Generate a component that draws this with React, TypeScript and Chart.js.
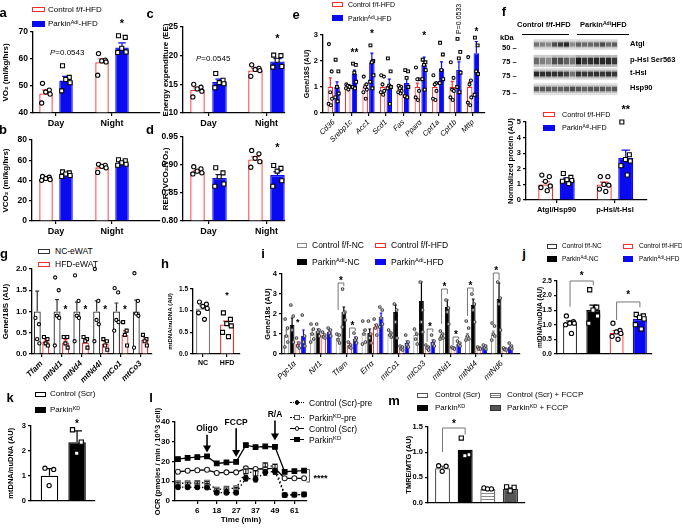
import React, { useEffect, useRef } from "react";
import { Chart, registerables } from "chart.js";

Chart.register(...registerables);

const FONT = "'Liberation Sans', Arial, Helvetica, sans-serif";
Chart.defaults.font.family = FONT;
Chart.defaults.color = "#000";

const RED = "#ff2a2a";
const BLUE = "#0a0af0";

// ---------------- data ----------------
const dayNight = ["Day", "Night"];
// a  VO2
const aCtrl = [47.2, 58.8];
const aCtrlErr = [1.3, 1.3];
const aCtrlPts = [[51, 48.5, 47.8, 47, 43.7], [62, 59.6, 59.3, 58.9, 54]];
const aPk = [52.0, 64.3];
const aPkErr = [1.6, 1.7];
const aPkPts = [[57.5, 53.2, 52.4, 51.2, 48.2], [68.6, 68, 64, 62.6, 62.4]];
// b  VCO2
const bCtrl = [41.6, 53.0];
const bCtrlErr = [1.0, 1.4];
const bCtrlPts = [[44, 43.2, 42, 41, 40.2], [56, 55, 54, 52.5, 48]];
const bPk = [45.6, 56.6];
const bPkErr = [1.0, 1.1];
const bPkPts = [[48.5, 47.5, 46.4, 45, 44], [60.5, 59.5, 57.5, 56, 55]];
// c  EE
const cCtrl = [14.0, 17.4];
const cCtrlErr = [0.4, 0.4];
const cCtrlPts = [[15.0, 14.5, 14.2, 13.8, 12.8], [18.4, 17.8, 17.6, 17.4, 16.4]];
const cPk = [15.4, 19.0];
const cPkErr = [0.5, 0.5];
const cPkPts = [[16.9, 15.7, 15.3, 15.1, 14.4], [20.1, 20.0, 19.2, 18.1, 18.0]];
// d  RER
const dCtrl = [0.888, 0.91];
const dCtrlErr = [0.002, 0.005];
const dCtrlPts = [[0.897, 0.893, 0.889, 0.886, 0.884], [0.926, 0.92, 0.912, 0.906, 0.896]];
const dPk = [0.877, 0.882];
const dPkErr = [0.006, 0.006];
const dPkPts = [[0.895, 0.886, 0.879, 0.866, 0.862], [0.899, 0.894, 0.889, 0.872, 0.862]];
// e  genes
const eCats = ["Cd36", "Srebp1c", "Acc1", "Scd1", "Fas", "Pparα", "Cpt1a", "Cpt1b", "Mttp"];
const eCtrl = [1, 1, 1, 1, 1, 1, 1, 1, 1];
const eCtrlErr = [0.35, 0.08, 0.1, 0.1, 0.07, 0.15, 0.1, 0.22, 0.18];
const eCtrlPts = [[2.65, 1.6, 0.8, 0.55, 0.35, 0.3], [1.1, 1.05, 1.05, 1.0, 0.95, 0.9], [1.4, 1.1, 1.0, 0.9, 0.8, 0.55], [1.45, 1.4, 1.1, 0.85, 0.8, 0.7], [1.05, 1.0, 0.95, 0.85, 0.8, 0.75], [1.75, 1.3, 1.3, 0.85, 0.6, 0.5], [1.45, 1.15, 1.1, 0.85, 0.55, 0.5], [1.95, 1.35, 0.9, 0.85, 0.6, 0.5], [2.15, 1.25, 1.1, 0.6, 0.4, 0.3]];
const ePk = [1.0, 1.5, 1.95, 1.05, 1.15, 1.85, 1.7, 1.65, 2.3];
const ePkErr = [0.2, 0.15, 0.35, 0.25, 0.2, 0.3, 0.27, 0.32, 0.45];
const ePkPts = [[2.05, 1.6, 1.0, 0.75, 0.6, 0.45], [1.9, 1.85, 1.55, 1.2, 1.0, 0.95], [2.6, 2.0, 1.95, 1.45, 1.2, 0.95], [2.1, 1.6, 1.05, 1.0, 0.95, 0.35], [1.65, 1.6, 1.35, 1.0, 0.65, 0.6], [2.05, 1.95, 1.85, 1.65, 1.3, 0.9], [2.7, 2.25, 1.65, 1.3, 1.15], [2.85, 2.35, 2.1, 1.55, 1.0, 0.8], [2.9, 2.6, 1.6, 1.5, 0.7]];
// f  western quantification
const fCats = ["Atgl/Hsp90", "p-Hsl/t-Hsl"];
const fCtrl = [1.0, 1.0];
const fCtrlErr = [0.17, 0.15];
const fCtrlPts = [[1.6, 1.5, 1.2, 0.9, 0.8, 0.6], [1.5, 1.5, 1.0, 0.95, 0.7, 0.55]];
const fPk = [1.3, 2.7];
const fPkErr = [0.1, 0.5];
const fPkPts = [[1.7, 1.45, 1.3, 1.25, 1.2, 1.05], [5.0, 2.9, 2.6, 2.5, 2.2, 1.6]];
// f  blot band intensities (lanes 1-7 control, 8-14 Parkin)
const blotRowNames = ["Atgl", "p-Hsl Ser563", "t-Hsl", "Hsp90"];
const blotMarkers = ["50", "75", "75", "75"];
const blotAtgl = [0.45, 0.4, 0.35, 0.65, 0.75, 0.85, 0.35, 0.55, 0.5, 0.5, 0.55, 0.65, 0.5, 0.55];
const blotPHsl = [0.5, 0.4, 0.35, 0.65, 0.65, 0.55, 0.45, 0.95, 0.75, 0.8, 0.85, 0.85, 0.85, 0.75];
const blotTHsl = [0.85, 0.8, 0.8, 0.8, 0.8, 0.7, 0.45, 0.8, 0.75, 0.75, 0.8, 0.75, 0.8, 0.75];
const blotHsp90 = [0.6, 0.6, 0.6, 0.55, 0.55, 0.6, 0.65, 0.6, 0.55, 0.6, 0.6, 0.6, 0.55, 0.6];
// g  eWAT mito genes
const gCats = ["Tfam", "mtNd1", "mtNd4", "mtNd4l", "mtCo1", "mtCo3"];
const gNC = [1, 1, 1, 1, 1, 1];
const gNCErr = [0.48, 0.28, 0.22, 0.25, 0.2, 0.27];
const gNCPts = [[0.85, 0.7, 0.35, 0.25], [1.8, 1.5, 0.9, 0.85, 0.2], [1.85, 1.25, 0.9, 0.85, 0.3], [2.0, 1.25, 0.8, 0.7, 0.3], [1.55, 1.45, 0.8, 0.75, 0.55], [1.9, 1.25, 0.95, 0.9, 0.15]];
const gHFD = [0.28, 0.27, 0.27, 0.24, 0.45, 0.33];
const gHFDErr = [0.06, 0.07, 0.05, 0.06, 0.1, 0.05];
const gHFDPts = [[0.4, 0.35, 0.25, 0.2], [0.4, 0.4, 0.25, 0.15], [0.4, 0.35, 0.3, 0.15], [0.35, 0.3, 0.2, 0.1], [0.75, 0.55, 0.45, 0.2], [0.45, 0.35, 0.3, 0.2]];
// h
const hCats = ["NC", "HFD"];
const hVals = [1.05, 0.68];
const hErr = [0.06, 0.08];
const hPts = [[1.2, 1.15, 1.1, 1.05, 0.95, 0.8], [0.95, 0.8, 0.7, 0.65, 0.5, 0.4]];
// i
const iCats = ["Pgc1α", "Nrf1", "Tfam", "Errα", "mtCo1", "mtCo3", "mtNd1", "mtNd4", "mtNd6"];
const iCtrlNC = [0.95, 1.05, 0.8, 1.05, 1.0, 0.95, 0.9, 0.9, 0.95];
const iCtrlNCErr = [0.25, 0.15, 0.15, 0.15, 0.1, 0.15, 0.1, 0.12, 0.2];
const iCtrlNCPts = [[1.75, 1.3, 0.9, 0.6, 0.35], [1.5, 1.25, 1.0, 0.75, 0.6], [1.0, 0.95, 0.7, 0.55], [1.65, 1.2, 1.0, 0.6, 0.5], [1.2, 1.05, 0.95, 0.85], [1.25, 1.0, 0.75, 0.5], [1.15, 1.0, 0.9, 0.8, 0.75], [1.65, 1.3, 0.9, 0.75, 0.7], [1.55, 1.4, 1.0, 0.9, 0.7]];
const iPkNC = [1.45, 1.15, 2.1, 1.05, 2.1, 2.65, 2.35, 2.45, 2.75];
const iPkNCErr = [0.35, 0.1, 0.25, 0.2, 0.35, 0.95, 0.35, 0.3, 0.8];
const iPkNCPts = [[2.45, 1.9, 1.2, 0.6], [1.5, 1.2, 1.1, 0.9], [3.25, 2.1, 2.05, 1.7, 1.35], [1.65, 1.0, 0.8, 0.55], [2.5, 2.2, 1.6, 0.8], [3.6, 2.2, 1.6, 1.1], [2.7, 2.3, 2.1, 1.5], [3.0, 2.5, 2.2, 1.6], [3.6, 2.8, 2.5, 1.2]];
const iCtrlHFD = [0.5, 0.95, 0.45, 1.35, 0.3, 0.3, 0.3, 0.3, 0.25];
const iCtrlHFDErr = [0.1, 0.1, 0.08, 0.12, 0.05, 0.06, 0.04, 0.04, 0.04];
const iCtrlHFDPts = [[0.8, 0.55, 0.4, 0.3], [1.1, 0.95, 0.85, 0.8], [0.6, 0.45, 0.35, 0.3], [1.75, 1.45, 1.3, 0.95], [0.4, 0.35, 0.25, 0.2], [0.45, 0.35, 0.3, 0.2], [0.35, 0.3, 0.3, 0.25], [0.35, 0.3, 0.25, 0.25], [0.3, 0.25, 0.22, 0.2]];
const iPkHFD = [0.9, 1.1, 0.75, 1.85, 0.55, 0.6, 0.5, 0.35, 0.35];
const iPkHFDErr = [0.3, 0.1, 0.1, 0.2, 0.1, 0.1, 0.06, 0.05, 0.05];
const iPkHFDPts = [[1.95, 0.9, 0.6, 0.4], [1.3, 1.2, 1.05, 0.9], [1.05, 0.8, 0.7, 0.55], [2.35, 2.2, 1.8, 1.5, 1.35], [0.95, 0.6, 0.45, 0.35], [0.95, 0.65, 0.5, 0.4], [0.65, 0.55, 0.45, 0.4], [0.45, 0.4, 0.3, 0.25], [0.55, 0.4, 0.3, 0.25]];
// j
const jGroups = ["Control f/f-NC", "Parkin Adi-NC", "Control f/f-HFD", "Parkin Adi-HFD"];
const jVals = [1.05, 1.5, 0.72, 1.2];
const jErr = [0.08, 0.17, 0.08, 0.07];
const jPts = [[1.3, 1.1, 1.05, 1.05, 1.0, 0.7], [2.2, 1.6, 1.5, 1.3, 1.05], [1.05, 0.8, 0.75, 0.7, 0.6, 0.5], [1.35, 1.3, 1.25, 1.2, 1.0, 0.85]];
// k
const kGroups = ["Control (Scr)", "Parkin KD"];
const kVals = [1.0, 2.35];
const kErr = [0.28, 0.45];
const kPts = [[1.3, 1.25, 0.6], [2.85, 2.35, 1.9]];
// l  OCR
const lTimes = [0, 3, 6, 12, 18, 22, 27, 31, 37, 43, 49, 55, 61, 67];
const lTickIdx = [2, 4, 6, 8, 10, 12];
const lLabels = ["Control (Scr)-pre", "Parkin KD-pre", "Control (Scr)", "Parkin KD"];
const lCtrlPre = [7.0, 7.0, 6.9, 6.8, 4.2, 4.2, 4.2, 11.5, 11.0, 14.5, 15.0, 3.0, 3.2, 3.3];
const lCtrlPreErr = [0.5, 0.5, 0.5, 0.5, 0.4, 0.4, 0.4, 1.4, 1.4, 1.5, 1.5, 0.4, 0.4, 0.4];
const lPkPre = [9.0, 9.0, 9.2, 9.3, 5.8, 6.2, 6.5, 15.0, 14.0, 18.2, 17.5, 3.0, 3.2, 3.3];
const lPkPreErr = [0.5, 0.5, 0.5, 0.5, 0.4, 0.4, 0.4, 1.2, 1.4, 1.0, 1.0, 0.4, 0.4, 0.4];
const lCtrl = [14.8, 15.3, 15.6, 15.8, 14.2, 14.5, 14.5, 16.5, 16.2, 16.3, 16.6, 11.5, 11.5, 11.5];
const lPk = [21.2, 21.8, 22.2, 22.6, 19.0, 19.5, 19.8, 28.3, 27.3, 27.6, 27.4, 14.8, 15.1, 15.4];
const lInjections = ["Oligo", "FCCP", "R/A"];
const lInjectIdx = [3, 6, 10];
// m
const mGroups = ["Control (Scr)", "Parkin KD", "Control (Scr) + FCCP", "Parkin KD + FCCP"];
const mVals = [0.68, 1.05, 0.27, 0.27];
const mErr = [0.04, 0, 0.01, 0.02];
const mPts = [[0.73, 0.72, 0.62], [1.28, 0.95, 0.93], [0.29, 0.27, 0.27], [0.31, 0.3, 0.23]];

// ---------------- helpers ----------------
const JIT = [-0.26, 0.24, -0.02, 0.3, -0.32, 0.1, -0.14];
const pick = (v: any, j: number) => (Array.isArray(v) ? v[j] : v);

function drawPt(ctx: any, shape: string, x: number, y: number, r: number, fill: string, stroke: string, lw = 1) {
  ctx.beginPath();
  if (shape === "rect") ctx.rect(x - r, y - r, 2 * r, 2 * r);
  else ctx.arc(x, y, r, 0, Math.PI * 2);
  ctx.fillStyle = fill;
  ctx.fill();
  ctx.lineWidth = lw;
  ctx.strokeStyle = stroke;
  ctx.stroke();
}

function drawLabel(ctx: any, t: any, x: number, y: number) {
  const size = t.size ?? 10;
  const parts = t.parts ?? [{ t: t.text }];
  const weight = t.bold === false ? "" : "bold ";
  const isStar = /^\*+$/.test(t.text ?? "");
  ctx.save();
  ctx.translate(x, y + (isStar ? size * 0.28 : 0));
  if (t.rot) ctx.rotate((t.rot * Math.PI) / 180);
  let total = 0;
  const widths = parts.map((p: any) => {
    ctx.font = `${p.i ? "italic " : ""}${weight}${size}px ${FONT}`;
    const w = ctx.measureText(p.t).width;
    total += w;
    return w;
  });
  let cx = t.align === "left" ? 0 : -total / 2;
  ctx.textBaseline = "middle";
  ctx.textAlign = "left";
  ctx.fillStyle = t.color ?? "#000";
  parts.forEach((p: any, k: number) => {
    ctx.font = `${p.i ? "italic " : ""}${weight}${size}px ${FONT}`;
    ctx.fillText(p.t, cx, 0);
    cx += widths[k];
  });
  ctx.restore();
}

function makeStripes(ctx?: any) {
  const c = document.createElement("canvas");
  c.width = 4;
  c.height = 3;
  const g = c.getContext("2d")!;
  g.fillStyle = "#fff";
  g.fillRect(0, 0, 4, 3);
  g.fillStyle = "#8a8a8a";
  g.fillRect(0, 2, 4, 1);
  return g.createPattern(c, "repeat");
}

const axisGrid = (ticks = true) => ({
  display: true,
  drawOnChartArea: false,
  drawTicks: ticks,
  tickLength: 3,
  color: "#000",
  lineWidth: 1.2,
  offset: false,
});
const axisBorder = { display: true, color: "#000", width: 1.3 };

function barPanel(spec: any) {
  const { x0, x1, y0, y1 } = spec.box;
  const pos = {
    left: x0 - spec.yW,
    top: y0 - spec.topPad,
    width: Math.round(x1 - x0 + spec.yW + spec.rightPad),
    height: Math.round(y1 - y0 + spec.topPad + spec.xH),
  };
  const build = () => {
    const u = (x1 - x0) / (spec.xMax - spec.xMin);
    const n = spec.series.length;
    const chunk = spec.barW + spec.gap;
    const nCat = spec.series[0].values.length;
    const stripes = makeStripes();
    const series = spec.series.map((s: any) => ({
      ...s,
      fill: Array.isArray(s.fill) ? s.fill.map((f: any) => (f === "STRIPES" ? stripes : f)) : s.fill,
    }));
    const tickFont = { family: FONT, size: spec.tickSize ?? 8, weight: "bold" };
    const titleFont = { family: FONT, size: spec.titleSize ?? 8, weight: "bold" };
    const catFont = {
      family: FONT,
      size: spec.catSize ?? 9,
      weight: spec.catBold === false ? "normal" : "bold",
      style: spec.italic ? "italic" : "normal",
    };
    const rot = spec.rotate ? 45 : 0;
    const datasets = series.map((s: any) => ({
      type: "bar",
      data: s.values.map((v: number, i: number) => ({ x: i + 1, y: v })),
      backgroundColor: s.fill,
      borderColor: s.border,
      borderWidth: s.bw ?? 1.3,
      borderSkipped: "start",
      base: spec.yMin,
      categoryPercentage: (n * chunk) / u,
      barPercentage: spec.barW / chunk,
    }));
    const plugin = {
      id: "extras",
      afterDatasetsDraw(chart: any) {
        const ctx = chart.ctx;
        const xs = chart.scales.x;
        const ys = chart.scales.y;
        ctx.save();
        series.forEach((s: any, di: number) => {
          const meta = chart.getDatasetMeta(di);
          meta.data.forEach((el: any, j: number) => {
            const v = s.values[j];
            const e = s.errs ? s.errs[j] : 0;
            const w = el.width;
            if (e) {
              const yt = ys.getPixelForValue(v);
              const ye = ys.getPixelForValue(v + e);
              ctx.strokeStyle = pick(s.errColor ?? s.border, j);
              ctx.lineWidth = 1.2;
              ctx.beginPath();
              ctx.moveTo(el.x, yt);
              ctx.lineTo(el.x, ye);
              ctx.moveTo(el.x - w * 0.28, ye);
              ctx.lineTo(el.x + w * 0.28, ye);
              ctx.stroke();
            }
            const pts = s.pts ? s.pts[j] : [];
            pts.forEach((p: number, k: number) => {
              const px = el.x + JIT[k % JIT.length] * w;
              drawPt(ctx, pick(s.shape, j), px, ys.getPixelForValue(p), s.r ?? 2.1, pick(s.ptFill ?? "#fff", j), s.ptStroke ?? "#000", s.ptLw ?? 1.1);
            });
          });
        });
        (spec.brackets || []).forEach((b: any) => {
          const ea = chart.getDatasetMeta(b.a[0]).data[b.a[1]];
          const eb = chart.getDatasetMeta(b.b[0]).data[b.b[1]];
          const y = ys.getPixelForValue(b.y);
          ctx.strokeStyle = b.color ?? "#777";
          ctx.lineWidth = 1;
          ctx.beginPath();
          ctx.moveTo(ea.x, ys.getPixelForValue(b.ya));
          ctx.lineTo(ea.x, y);
          ctx.lineTo(eb.x, y);
          ctx.lineTo(eb.x, ys.getPixelForValue(b.yb));
          ctx.stroke();
          if (b.star) drawLabel(ctx, { text: b.star, size: b.size ?? 10 }, (ea.x + eb.x) / 2, ys.getPixelForValue(b.sy));
        });
        (spec.texts || []).forEach((t: any) => {
          const x = t.at ? chart.getDatasetMeta(t.at[0]).data[t.at[1]].x : xs.getPixelForValue(t.x);
          drawLabel(ctx, t, x, ys.getPixelForValue(t.y));
        });
        ctx.restore();
      },
    };
    return {
      type: "bar",
      data: { datasets },
      options: {
        animation: false,
        responsive: false,
        maintainAspectRatio: false,
        devicePixelRatio: 1,
        layout: { padding: { top: spec.topPad, right: spec.rightPad, left: 0, bottom: 0 } },
        plugins: { legend: { display: false }, tooltip: { enabled: false } },
        scales: {
          x: {
            type: "linear",
            min: spec.xMin,
            max: spec.xMax,
            offset: false,
            afterBuildTicks: (sc: any) => {
              sc.ticks = Array.from({ length: nCat }, (_, i) => ({ value: i + 1 }));
            },
            afterFit: (sc: any) => {
              sc.height = spec.xH;
            },
            ticks: {
              display: !!spec.cats,
              autoSkip: false,
              minRotation: rot,
              maxRotation: rot,
              padding: spec.catPad ?? 2,
              font: catFont,
              color: "#000",
              callback: (v: number) => (spec.cats ? spec.cats[Math.round(v) - 1] ?? "" : ""),
            },
            grid: axisGrid(!!spec.cats),
            border: axisBorder,
          },
          y: {
            type: "linear",
            min: spec.yMin,
            max: spec.yMax,
            afterFit: (sc: any) => {
              sc.width = spec.yW;
            },
            ticks: {
              stepSize: spec.yStep,
              autoSkip: false,
              padding: 2,
              font: tickFont,
              color: "#000",
              callback: (v: number) => Number(v).toFixed(spec.yDec ?? 0),
            },
            title: { display: true, text: spec.yTitle, font: titleFont, color: "#000", padding: { top: 1, bottom: 1 } },
            grid: axisGrid(true),
            border: axisBorder,
          },
        },
      },
      plugins: [plugin],
    };
  };
  return { pos, build };
}

const ctrlHFD = (values: number[], errs: number[], pts: number[][], r = 2.1) => ({ values, errs, pts, fill: "#fff", border: RED, shape: "circle", r });
const pkHFD = (values: number[], errs: number[], pts: number[][], r = 2.0) => ({ values, errs, pts, fill: BLUE, border: BLUE, shape: "rect", r });

// ---------------- panels ----------------
const panelA = barPanel({
  box: { x0: 33, x1: 160, y0: 32, y1: 113 }, yW: 33, xH: 16, topPad: 22, rightPad: 4,
  yMin: 40, yMax: 70, yStep: 10, yDec: 0, yTitle: "VO₂ (ml/kg/hrs)", tickSize: 8.5, titleSize: 8,
  cats: dayNight, xMin: 0.589, xMax: 2.857, barW: 13.5, gap: 6.5,
  series: [ctrlHFD(aCtrl, aCtrlErr, aCtrlPts), pkHFD(aPk, aPkErr, aPkPts)],
  texts: [
    { at: [1, 1], y: 74.3, text: "*", size: 11 },
    { x: 1.2, y: 62.2, parts: [{ t: "P", i: true }, { t: "=0.0543" }], size: 8, bold: false },
  ],
});
const panelB = barPanel({
  box: { x0: 32, x1: 160, y0: 140, y1: 221 }, yW: 32, xH: 16, topPad: 10, rightPad: 4,
  yMin: 0, yMax: 80, yStep: 20, yDec: 0, yTitle: "VCO₂ (ml/kg/hrs)", tickSize: 8.5, titleSize: 8,
  cats: dayNight, xMin: 0.571, xMax: 2.857, barW: 13.5, gap: 6.5,
  series: [ctrlHFD(bCtrl, bCtrlErr, bCtrlPts), pkHFD(bPk, bPkErr, bPkPts)],
});
const panelC = barPanel({
  box: { x0: 183, x1: 285, y0: 27, y1: 113 }, yW: 23, xH: 16, topPad: 14, rightPad: 6,
  yMin: 10, yMax: 25, yStep: 5, yDec: 0, yTitle: "Energy expenditure (EE)", tickSize: 8.5, titleSize: 8,
  cats: dayNight, xMin: 0.56, xMax: 2.32, barW: 14.5, gap: 7.5,
  series: [ctrlHFD(cCtrl, cCtrlErr, cCtrlPts), pkHFD(cPk, cPkErr, cPkPts)],
  texts: [
    { at: [1, 1], y: 23.4, text: "*", size: 11 },
    { x: 1.08, y: 19.4, parts: [{ t: "P", i: true }, { t: "=0.0545" }], size: 8, bold: false },
  ],
});
const panelD = barPanel({
  box: { x0: 183, x1: 285, y0: 137, y1: 221 }, yW: 23, xH: 16, topPad: 12, rightPad: 6,
  yMin: 0.8, yMax: 0.95, yStep: 0.05, yDec: 2, yTitle: "RER (VCO₂/VO₂)", tickSize: 8.5, titleSize: 8,
  cats: dayNight, xMin: 0.56, xMax: 2.32, barW: 14.5, gap: 7.5,
  series: [ctrlHFD(dCtrl, dCtrlErr, dCtrlPts), pkHFD(dPk, dPkErr, dPkPts)],
  texts: [{ at: [1, 1], y: 0.936, text: "*", size: 11 }],
});
const panelE = barPanel({
  box: { x0: 323, x1: 485, y0: 35, y1: 113 }, yW: 21, xH: 32, topPad: 35, rightPad: 4,
  yMin: 0, yMax: 3, yStep: 1, yDec: 0, yTitle: "Gene/18S (AU)", tickSize: 7.5, titleSize: 7,
  cats: eCats, italic: true, rotate: true, catSize: 7.5, catBold: false,
  xMin: 0.385, xMax: 9.69, barW: 5.5, gap: 1.2,
  series: [
    { ...ctrlHFD(eCtrl, eCtrlErr, eCtrlPts, 1.5), bw: 1.1 },
    { ...pkHFD(ePk, ePkErr, ePkPts, 1.4), bw: 1.1 },
  ],
  texts: [
    { at: [1, 1], y: 2.42, text: "**", size: 10 },
    { at: [1, 2], y: 3.12, text: "*", size: 10 },
    { at: [1, 5], y: 3.05, text: "*", size: 10 },
    { at: [1, 8], y: 3.22, text: "*", size: 10 },
    { at: [1, 7], y: 3.62, text: "P=0.0533", size: 7, rot: -90, bold: false },
  ],
});
const panelF = barPanel({
  box: { x0: 526, x1: 647, y0: 122, y1: 200 }, yW: 21, xH: 16, topPad: 18, rightPad: 4,
  yMin: 0, yMax: 5, yStep: 1, yDec: 0, yTitle: "Normalized protein (AU)", tickSize: 7.5, titleSize: 7.5,
  cats: fCats, catSize: 7.5, xMin: 0.479, xMax: 2.547, barW: 15, gap: 6.5,
  series: [ctrlHFD(fCtrl, fCtrlErr, fCtrlPts), pkHFD(fPk, fPkErr, fPkPts)],
  texts: [{ at: [1, 1], y: 5.95, text: "**", size: 11 }],
});
const panelG = barPanel({
  box: { x0: 32, x1: 152, y0: 269, y1: 354 }, yW: 32, xH: 42, topPad: 8, rightPad: 4,
  yMin: 0, yMax: 2, yStep: 0.5, yDec: 1, yTitle: "Gene/18S (AU)", tickSize: 8, titleSize: 8,
  cats: gCats, italic: true, rotate: true, catSize: 8,
  xMin: 0.52, xMax: 6.58, barW: 7, gap: 1.5,
  series: [
    { values: gNC, errs: gNCErr, pts: gNCPts, fill: "#fff", border: "#333", shape: "circle", r: 1.6, errColor: "#333" },
    { values: gHFD, errs: gHFDErr, pts: gHFDPts, fill: "#fff", border: RED, shape: "rect", r: 1.5 },
  ],
  texts: [1, 2, 3, 4].map((j) => ({ at: [1, j], y: 1.1, text: "*", size: 10 })),
});
const panelH = barPanel({
  box: { x0: 193, x1: 240, y0: 289, y1: 354 }, yW: 27, xH: 14, topPad: 10, rightPad: 3,
  yMin: 0, yMax: 1.5, yStep: 0.5, yDec: 1, yTitle: "mtDNA/nuDNA (AU)", tickSize: 6.5, titleSize: 6,
  cats: hCats, catSize: 7, xMin: 0.58, xMax: 2.54, barW: 14, gap: 0,
  series: [{ values: hVals, errs: hErr, pts: hPts, fill: ["#fff", "#fff"], border: ["#777", RED], shape: ["circle", "rect"], r: 2 }],
  texts: [{ at: [0, 1], y: 1.41, text: "*", size: 9 }],
});
const panelI = barPanel({
  box: { x0: 282, x1: 520, y0: 274, y1: 354 }, yW: 20, xH: 42, topPad: 10, rightPad: 4,
  yMin: 0, yMax: 4, yStep: 1, yDec: 0, yTitle: "Gene/18s (AU)", tickSize: 7.5, titleSize: 7.5,
  cats: iCats, italic: true, rotate: true, catSize: 8, catBold: false,
  xMin: 0.5, xMax: 9.7, barW: 4.8, gap: 0.9,
  series: [
    { values: iCtrlNC, errs: iCtrlNCErr, pts: iCtrlNCPts, fill: "#fff", border: "#888", shape: "circle", r: 1.3, bw: 1, ptStroke: "#444" },
    { values: iPkNC, errs: iPkNCErr, pts: iPkNCPts, fill: "#000", border: "#000", shape: "circle", r: 1.3, bw: 1, ptStroke: "#444" },
    { values: iCtrlHFD, errs: iCtrlHFDErr, pts: iCtrlHFDPts, fill: "#fff", border: RED, shape: "circle", r: 1.3, bw: 1, ptStroke: "#444" },
    { values: iPkHFD, errs: iPkHFDErr, pts: iPkHFDPts, fill: BLUE, border: BLUE, shape: "circle", r: 1.3, bw: 1, ptStroke: "#444" },
  ],
  brackets: [
    { a: [0, 2], b: [1, 2], y: 3.55, ya: 2.2, yb: 3.4, star: "*", sy: 3.8 },
    { a: [2, 2], b: [3, 2], y: 1.3, ya: 0.8, yb: 1.15, star: "*", sy: 1.55 },
    { a: [2, 5], b: [3, 5], y: 1.25, ya: 0.6, yb: 1.1, star: "*", sy: 1.5 },
    { a: [0, 6], b: [1, 6], y: 3.25, ya: 1.5, yb: 3.0, star: "*", sy: 3.5 },
    { a: [2, 6], b: [3, 6], y: 0.85, ya: 0.45, yb: 0.75, star: "*", sy: 1.1 },
    { a: [0, 7], b: [1, 7], y: 3.3, ya: 1.9, yb: 3.1, star: "*", sy: 3.55 },
    { a: [0, 8], b: [1, 8], y: 4.05, ya: 1.5, yb: 3.7, star: "*", sy: 4.3 },
  ],
  texts: [{ at: [2, 0], y: 1.7, text: "*", size: 9 }],
});
const panelJ = barPanel({
  box: { x0: 557, x1: 652, y0: 281, y1: 354 }, yW: 22, xH: 6, topPad: 14, rightPad: 3,
  yMin: 0, yMax: 2.5, yStep: 0.5, yDec: 1, yTitle: "mtDNA/nuDNA (AU)", tickSize: 7, titleSize: 6.5,
  cats: null, xMin: 0.44, xMax: 4.52, barW: 14, gap: 0,
  series: [{ values: jVals, errs: jErr, pts: jPts, fill: ["#fff", "#000", "#fff", BLUE], border: ["#333", "#000", RED, BLUE], errColor: ["#333", "#000", RED, BLUE], shape: ["circle", "rect", "circle", "rect"], r: 2.1 }],
  brackets: [
    { a: [0, 0], b: [0, 1], y: 2.5, ya: 1.62, yb: 2.35, star: "*", sy: 2.77 },
    { a: [0, 2], b: [0, 3], y: 1.78, ya: 1.16, yb: 1.6, star: "*", sy: 2.09 },
  ],
});
const panelK = barPanel({
  box: { x0: 31, x1: 95, y0: 426, y1: 501 }, yW: 26, xH: 6, topPad: 14, rightPad: 3,
  yMin: 0, yMax: 3, yStep: 1, yDec: 0, yTitle: "mtDNA/nuDNA (AU)", tickSize: 7.5, titleSize: 7.5,
  cats: null, xMin: 0.33, xMax: 2.65, barW: 17.5, gap: 0,
  series: [{ values: kVals, errs: kErr, pts: kPts, fill: ["#fff", "#000"], border: ["#000", "#000"], shape: ["circle", "rect"], r: 2.1 }],
  texts: [{ at: [0, 1], y: 3.2, text: "*", size: 10 }],
});
const panelM = barPanel({
  box: { x0: 428, x1: 525, y0: 427, y1: 503 }, yW: 25, xH: 6, topPad: 14, rightPad: 3,
  yMin: 0, yMax: 1.5, yStep: 0.5, yDec: 1, yTitle: "TMRE/MTG (AU)", tickSize: 7.5, titleSize: 7.5,
  cats: null, xMin: 0.36, xMax: 4.64, barW: 15, gap: 0,
  series: [{ values: mVals, errs: mErr, pts: mPts, fill: ["#fff", "#000", "STRIPES", "#555"], border: ["#555", "#000", "#666", "#333"], errColor: ["#555", "#000", "#666", "#333"], shape: ["circle", "rect", "circle", "rect"], r: 2.1 }],
  brackets: [{ a: [0, 0], b: [0, 1], y: 1.48, ya: 1.0, yb: 1.35, star: "*", sy: 1.62 }],
});

// l line panel
const lPanel = (() => {
  const box = { x0: 175, x1: 306.6, y0: 422, y1: 501 };
  const yW = 23, xH = 24, topPad: number = 20, rightPad = 42;
  const pos = { left: box.x0 - yW, top: box.y0 - topPad, width: Math.round(box.x1 - box.x0 + yW + rightPad), height: box.y1 - box.y0 + topPad + xH };
  const styles = [
    { values: lCtrlPre, errs: lCtrlPreErr, shape: "circle", fill: "#000", stroke: "#000", dash: [1.5, 2.5], r: 2.4 },
    { values: lPkPre, errs: lPkPreErr, shape: "rect", fill: "#fff", stroke: "#555", dash: [1.5, 2.5], r: 3.3 },
    { values: lCtrl, errs: null, shape: "circle", fill: "#fff", stroke: "#222", dash: [], r: 2.5 },
    { values: lPk, errs: null, shape: "rect", fill: "#000", stroke: "#000", dash: [], r: 3.3 },
  ];
  const arrows = [
    { yText: 36.8, y0: 33.6, y1: 24.5 },
    { yText: 39.6, y0: 36.8, y1: 22.3 },
    { yText: 43.6, y0: 40.8, y1: 30.6 },
  ];
  const build = () => {
    const font = { family: FONT, size: 8, weight: "bold" };
    const plugin = {
      id: "lextras",
      afterDatasetsDraw(chart: any) {
        const ctx = chart.ctx;
        const xs = chart.scales.x;
        const ys = chart.scales.y;
        ctx.save();
        styles.forEach((s, di) => {
          if (!s.errs) return;
          const meta = chart.getDatasetMeta(di);
          meta.data.forEach((pt: any, j: number) => {
            const e = s.errs![j];
            const v = s.values[j];
            const ya = ys.getPixelForValue(v - e);
            const yb = ys.getPixelForValue(v + e);
            ctx.strokeStyle = "#000";
            ctx.lineWidth = 1;
            ctx.beginPath();
            ctx.moveTo(pt.x, ya);
            ctx.lineTo(pt.x, yb);
            ctx.moveTo(pt.x - 2, ya);
            ctx.lineTo(pt.x + 2, ya);
            ctx.moveTo(pt.x - 2, yb);
            ctx.lineTo(pt.x + 2, yb);
            ctx.stroke();
          });
        });
        lInjections.forEach((name, k) => {
          const a = arrows[k];
          const x = xs.getPixelForValue(lInjectIdx[k]);
          const yA = ys.getPixelForValue(a.y0);
          const yB = ys.getPixelForValue(a.y1);
          ctx.strokeStyle = "#000";
          ctx.lineWidth = 1.6;
          ctx.beginPath();
          ctx.moveTo(x, yA);
          ctx.lineTo(x, yB - 6);
          ctx.stroke();
          ctx.fillStyle = "#000";
          ctx.beginPath();
          ctx.moveTo(x - 4, yB - 7);
          ctx.lineTo(x + 4, yB - 7);
          ctx.lineTo(x, yB);
          ctx.closePath();
          ctx.fill();
          drawLabel(ctx, { text: name, size: 8.5 }, x, ys.getPixelForValue(a.yText));
        });
        // significance bracket
        const bx = xs.getPixelForValue(13.55);
        const bt = ys.getPixelForValue(16);
        const bb = ys.getPixelForValue(9.6);
        ctx.strokeStyle = "#555";
        ctx.lineWidth = 1;
        ctx.beginPath();
        ctx.moveTo(bx - 3, bt);
        ctx.lineTo(bx, bt);
        ctx.lineTo(bx, bb);
        ctx.lineTo(bx - 3, bb);
        ctx.stroke();
        drawLabel(ctx, { text: "****", size: 9, align: "left" }, bx + 4, ys.getPixelForValue(12.8));
        ctx.restore();
      },
    };
    return {
      type: "line",
      data: {
        datasets: styles.map((s, di) => ({
          label: lLabels[di],
          data: s.values.map((v, i) => ({ x: i, y: v })),
          borderColor: "#000",
          borderWidth: 1.3,
          borderDash: s.dash,
          pointStyle: s.shape,
          pointRadius: s.r,
          pointBackgroundColor: s.fill,
          pointBorderColor: s.stroke,
          pointBorderWidth: 1.1,
          tension: 0,
        })),
      },
      options: {
        animation: false,
        responsive: false,
        maintainAspectRatio: false,
        devicePixelRatio: 1,
        layout: { padding: { top: topPad, right: rightPad, left: 0, bottom: 0 } },
        plugins: { legend: { display: false }, tooltip: { enabled: false } },
        scales: {
          x: {
            type: "linear",
            min: -0.3,
            max: 13.3,
            afterBuildTicks: (sc: any) => {
              sc.ticks = lTickIdx.map((v) => ({ value: v }));
            },
            afterFit: (sc: any) => {
              sc.height = xH;
            },
            ticks: { autoSkip: false, maxRotation: 0, padding: 2, font, color: "#000", callback: (v: number) => String(lTimes[Math.round(v)]) },
            title: { display: true, text: "Time (min)", font, color: "#000", padding: { top: 1, bottom: 0 } },
            grid: axisGrid(true),
            border: axisBorder,
          },
          y: {
            type: "linear",
            min: 0,
            max: 40,
            afterFit: (sc: any) => {
              sc.width = yW;
            },
            ticks: { stepSize: 10, autoSkip: false, padding: 2, font, color: "#000" },
            title: { display: true, text: "OCR (pmoles / min / 10^3 cell)", font: { family: FONT, size: 7.5, weight: "bold" }, color: "#000", padding: { top: 1, bottom: 1 } },
            grid: axisGrid(true),
            border: axisBorder,
          },
        },
      },
      plugins: [plugin],
    };
  };
  return { pos, build };
})();

// blot panel
const blotPanel = (() => {
  const pos = { left: 523, top: 37, width: 105, height: 60 };
  const rowPos = [1, 2.1, 2.97, 3.97];
  const stripHalf = [0.37, 0.42, 0.4, 0.4];
  const bandHalf = [0.14, 0.22, 0.16, 0.15];
  const rows = [blotAtgl, blotPHsl, blotTHsl, blotHsp90];
  const build = () => {
    const datasets: any[] = [];
    rows.forEach((r, ri) => {
      datasets.push({
        type: "bar",
        grouped: false,
        data: r.map((_, i) => ({ x: i + 1, y: [rowPos[ri] - bandHalf[ri], rowPos[ri] + bandHalf[ri]] })),
        backgroundColor: r.map((a) => `rgba(15,15,15,${a})`),
        borderWidth: 0,
        categoryPercentage: 1,
        barPercentage: 0.86,
      });
      datasets.push({
        type: "bar",
        grouped: false,
        data: r.map((_, i) => ({ x: i + 1, y: [rowPos[ri] - bandHalf[ri] * 1.8, rowPos[ri] + bandHalf[ri] * 1.8] })),
        backgroundColor: r.map((a) => `rgba(40,40,40,${(a * 0.3).toFixed(3)})`),
        borderWidth: 0,
        categoryPercentage: 1,
        barPercentage: 0.95,
      });
    });
    const plugin = {
      id: "blotbg",
      beforeDatasetsDraw(chart: any) {
        const ctx = chart.ctx;
        const xs = chart.scales.x;
        const ys = chart.scales.y;
        ctx.save();
        ctx.fillStyle = "#e3e3e3";
        rowPos.forEach((p, ri) => {
          const t = ys.getPixelForValue(p - stripHalf[ri]);
          const b = ys.getPixelForValue(p + stripHalf[ri]);
          ctx.fillRect(xs.getPixelForValue(0.5), t, xs.getPixelForValue(14.5) - xs.getPixelForValue(0.5), b - t);
        });
        ctx.restore();
      },
    };
    return {
      type: "bar",
      data: { datasets },
      options: {
        animation: false,
        responsive: false,
        maintainAspectRatio: false,
        devicePixelRatio: 1,
        layout: { padding: 0 },
        plugins: { legend: { display: false }, tooltip: { enabled: false } },
        scales: {
          x: { type: "linear", min: 0.5, max: 14.5, display: false, afterBuildTicks: (sc: any) => { sc.ticks = Array.from({ length: 14 }, (_, i) => ({ value: i + 1 })); } },
          y: { type: "linear", min: 0.5, max: 4.5, reverse: true, display: false },
        },
      },
      plugins: [plugin],
    };
  };
  return { pos, build };
})();

const PANELS = [panelA, panelB, panelC, panelD, panelE, panelF, panelG, panelH, panelI, panelJ, panelK, panelM, lPanel, blotPanel];

// ---------------- components ----------------
function ChartCanvas({ panel }: { panel: any }) {
  const ref = useRef<HTMLCanvasElement>(null);
  useEffect(() => {
    const chart = new Chart(ref.current as any, panel.build() as any);
    return () => chart.destroy();
  }, [panel]);
  const p = panel.pos;
  return <canvas ref={ref} width={p.width} height={p.height} style={{ position: "absolute", left: p.left, top: p.top, width: p.width, height: p.height }} />;
}

function rich(s: string) {
  const out: any[] = [];
  const re = /\^\{([^}]*)\}/g;
  let last = 0;
  let m: any;
  let k = 0;
  while ((m = re.exec(s))) {
    if (m.index > last) out.push(s.slice(last, m.index));
    out.push(
      <sup key={k++} style={{ fontSize: "0.68em", verticalAlign: "0.42em", lineHeight: 0 }}>
        {m[1]}
      </sup>
    );
    last = re.lastIndex;
  }
  if (last < s.length) out.push(s.slice(last));
  return out;
}

function T({ x, y, s = 8, b = false, i = false, center = false, children }: any) {
  return (
    <div
      style={{
        position: "absolute",
        left: x,
        top: y,
        transform: center ? "translate(-50%,-50%)" : "translateY(-50%)",
        fontFamily: FONT,
        fontSize: s,
        fontWeight: b ? 700 : 400,
        fontStyle: i ? "italic" : "normal",
        lineHeight: 1,
        whiteSpace: "nowrap",
        color: "#000",
      }}
    >
      {children}
    </div>
  );
}

function Key({ bx, y, w = 12, h = 5, fill, border, tx, s = 8, text, stripes = false }: any) {
  return (
    <>
      <div
        style={{
          position: "absolute",
          left: bx,
          top: y - h / 2,
          width: w,
          height: h,
          background: stripes ? "repeating-linear-gradient(to bottom, #fff 0px, #fff 1px, #888 1px, #888 2px)" : fill,
          border: `1.3px solid ${border}`,
          boxSizing: "border-box",
        }}
      />
      <T x={tx} y={y} s={s}>
        {rich(text)}
      </T>
    </>
  );
}

function LineKey({ x, y, dash, shape, fill, stroke, text }: any) {
  const r = shape === "rect" ? 2.6 : 2.4;
  return (
    <>
      <div style={{ position: "absolute", left: x, top: y, width: 14, height: 0, borderTop: `1.2px ${dash ? "dotted" : "solid"} #000` }} />
      <div
        style={{
          position: "absolute",
          left: x + 7 - r,
          top: y - r + 0.5,
          width: 2 * r,
          height: 2 * r,
          background: fill,
          border: `1px solid ${stroke}`,
          borderRadius: shape === "circle" ? "50%" : 0,
          boxSizing: "border-box",
        }}
      />
      <T x={x + 19} y={y + 0.5} s={8.5}>
        {rich(text)}
      </T>
    </>
  );
}

const letters: [string, number, number][] = [
  ["a", 3, 12], ["b", 3, 129], ["c", 150, 12.5], ["d", 150, 129], ["e", 296, 14], ["f", 504, 11],
  ["g", 4, 253], ["h", 165, 263], ["i", 263, 253], ["j", 524, 253], ["k", 10, 397], ["l", 151, 397], ["m", 394, 400],
];

export default function App() {
  return (
    <div style={{ position: "fixed", left: 0, top: 0, width: 682, height: 528, background: "#fff", overflow: "hidden" }}>
      {PANELS.map((p, i) => (
        <ChartCanvas key={i} panel={p} />
      ))}
      {letters.map(([t, x, y]) => (
        <T key={t} x={x} y={y} s={13} b center>
          {t}
        </T>
      ))}
      {/* a legend */}
      <Key bx={32} y={9.5} w={13} h={5} fill="#fff" border={RED} tx={48} s={8} text="Control f/f-HFD" />
      <Key bx={32} y={24} w={13} h={6} fill={BLUE} border={BLUE} tx={48} s={8} text="Parkin^{Adi}-HFD" />
      {/* e legend */}
      <Key bx={332} y={4} w={11} h={5} fill="#fff" border={RED} tx={348} s={7} text="Control f/f-HFD" />
      <Key bx={332} y={18} w={11} h={6} fill={BLUE} border={BLUE} tx={348} s={7} text="Parkin^{Adi}-HFD" />
      {/* f blot labels */}
      <T x={517} y={25} s={7.5} b>Control f/f-HFD</T>
      <T x={580} y={25} s={7.5} b>{rich("Parkin^{Adi}HFD")}</T>
      <div style={{ position: "absolute", left: 522, top: 34, width: 47, height: 0, borderTop: "1px solid #000" }} />
      <div style={{ position: "absolute", left: 577, top: 34, width: 52, height: 0, borderTop: "1px solid #000" }} />
      <T x={500} y={38} s={7.5} b>kDa</T>
      {blotMarkers.map((mk, k) => (
        <T key={k} x={502} y={[48, 62, 76, 93][k]} s={7.5} b>{mk + " –"}</T>
      ))}
      {blotRowNames.map((nm, k) => (
        <T key={nm} x={630} y={[44, 60, 73, 88][k]} s={7.5} b>{nm}</T>
      ))}
      {/* f legend */}
      <Key bx={543} y={114.5} w={12} h={5} fill="#fff" border={RED} tx={562} s={7.2} text="Control f/f-HFD" />
      <Key bx={543} y={128} w={12} h={6} fill={BLUE} border={BLUE} tx={562} s={7.2} text="Parkin^{Adi}-HFD" />
      {/* g legend */}
      <Key bx={38} y={251} w={12} h={5} fill="#fff" border="#333" tx={55} s={8.5} text="NC-eWAT" />
      <Key bx={38} y={264} w={12} h={5} fill="#fff" border={RED} tx={55} s={8.5} text="HFD-eWAT" />
      {/* i legend */}
      <Key bx={297} y={245} w={10} h={5} fill="#fff" border="#888" tx={312} s={8.5} text="Control f/f-NC" />
      <Key bx={375} y={245} w={11} h={5} fill="#fff" border={RED} tx={391} s={8.5} text="Control f/f-HFD" />
      <Key bx={297} y={262} w={10} h={6} fill="#000" border="#000" tx={312} s={8.5} text="Parkin^{Adi}-NC" />
      <Key bx={375} y={262} w={11} h={6} fill={BLUE} border={BLUE} tx={391} s={8.5} text="Parkin^{Adi}-HFD" />
      {/* j legend */}
      <Key bx={547} y={246} w={10} h={5} fill="#fff" border="#333" tx={562} s={6.5} text={jGroups[0]} />
      <Key bx={623} y={246} w={10} h={5} fill="#fff" border={RED} tx={639} s={6.5} text={jGroups[2]} />
      <Key bx={547} y={259} w={10} h={6} fill="#000" border="#000" tx={562} s={6.5} text="Parkin^{Adi}-NC" />
      <Key bx={623} y={259} w={10} h={6} fill={BLUE} border={BLUE} tx={639} s={6.5} text="Parkin^{Adi}-HFD" />
      {/* k legend */}
      <Key bx={35} y={394} w={11} h={5} fill="#fff" border="#000" tx={50} s={8} text={kGroups[0]} />
      <Key bx={35} y={410} w={11} h={6} fill="#000" border="#000" tx={50} s={8} text="Parkin^{KD}" />
      {/* l legend */}
      <LineKey x={290} y={402} dash shape="circle" fill="#000" stroke="#000" text="Control (Scr)-pre" />
      <LineKey x={290} y={417} dash shape="rect" fill="#fff" stroke="#555" text="Parkin^{KD}-pre" />
      <LineKey x={290} y={428} shape="circle" fill="#fff" stroke="#222" text="Control (Scr)" />
      <LineKey x={290} y={439} shape="rect" fill="#000" stroke="#000" text="Parkin^{KD}" />
      {/* m legend */}
      <Key bx={417} y={395} w={11} h={5} fill="#fff" border="#555" tx={435} s={8} text={mGroups[0]} />
      <Key bx={417} y={408} w={11} h={6} fill="#000" border="#000" tx={435} s={8} text="Parkin^{KD}" />
      <Key bx={490} y={395} w={11} h={5} stripes border="#666" tx={507} s={8} text={mGroups[2]} />
      <Key bx={490} y={408} w={11} h={6} fill="#555" border="#333" tx={507} s={8} text="Parkin^{KD} + FCCP" />
    </div>
  );
}
